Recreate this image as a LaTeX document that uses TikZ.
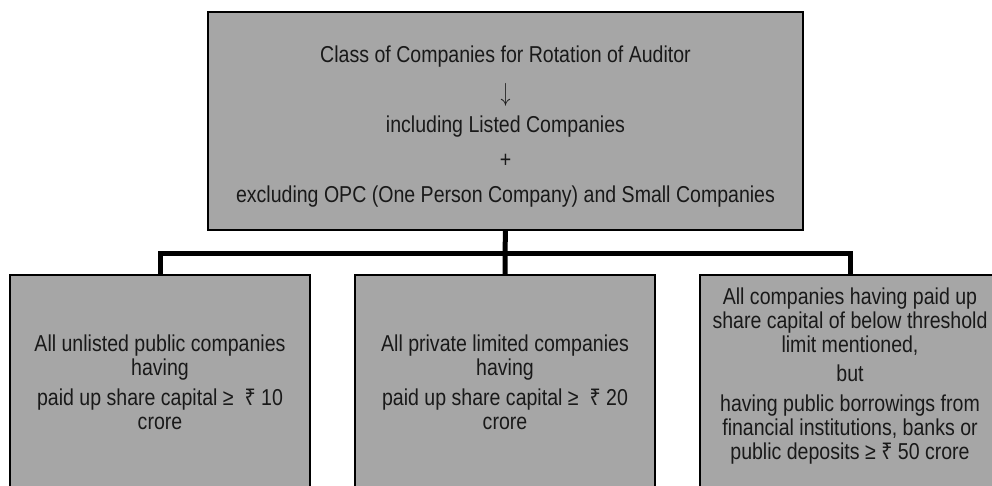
\documentclass[tikz,border=0pt]{standalone}
\usepackage{fontspec}
\setmainfont{Liberation Sans}[FakeStretch=0.85]
\newfontfamily\rsfont{Noto Sans}[FakeStretch=0.85]
\newcommand{\rupeesign}{{\rsfont ₹}}
\definecolor{boxgray}{RGB}{166,166,166}
\begin{document}
\begin{tikzpicture}[x=1pt,y=-1pt,
  box/.style={draw=black, fill=boxgray, line width=2.5pt, inner sep=0pt, outer sep=0pt},
  lbl/.style={align=center, font=\fontsize{23}{24}\selectfont, inner sep=0pt, text=black!90},
  conn/.style={draw=black, line width=5pt, line join=miter}]
\path[use as bounding box, fill=white] (0,0) rectangle (992,486);

\node[box, minimum width=595pt, minimum height=218pt] (top) at (505.5,121) {};
\node[lbl, font=\fontsize{23}{35}\selectfont] (toptext) at (505.5,126.5)
  {Class of Companies for Rotation of Auditor\\ \raisebox{-4pt}{\scalebox{0.8}[1.05]{$\downarrow$}}\\ including Listed Companies\\ +\\ excluding OPC (One Person Company) and Small Companies};

\node[box, minimum width=300pt, minimum height=240pt, anchor=north] (b1) at (160,275) {};
\node[box, minimum width=300pt, minimum height=240pt, anchor=north] (b2) at (505,275) {};
\node[box, minimum width=300pt, minimum height=240pt, anchor=north] (b3) at (850,275) {};

\node[lbl] (t1) at (160,382)
  {All unlisted public companies\\ having\\[6pt] paid up share capital ≥\ \ \rupeesign\ 10\\ crore};
\node[lbl] (t2) at (505,382)
  {All private limited companies\\ having\\[6pt] paid up share capital ≥\ \ \rupeesign\ 20\\ crore};
\node[lbl] (t3) at (850,376.5)
  {All companies having paid up\\ share capital of below threshold\\ limit mentioned,\\[5pt] but\\[6pt] having public borrowings from\\ financial institutions, banks or\\ public deposits ≥ \rupeesign\ 50 crore};

\coordinate (j) at (505,253);
\draw[conn] (top.south) -- (j) -- (b2.north);
\draw[conn] (b1.north) |- (j) -| (b3.north);
\end{tikzpicture}
\end{document}
